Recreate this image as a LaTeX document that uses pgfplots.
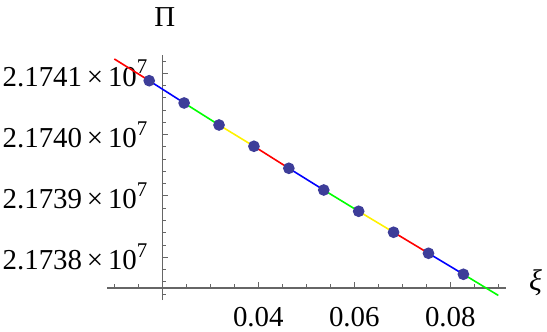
\documentclass[border=0pt]{standalone}
\usepackage{fontspec}
\setmainfont{Liberation Serif}
\usepackage{pgfplots}
\pgfplotsset{compat=1.18}
\definecolor{dotblue}{rgb}{0.24,0.24,0.6}
\definecolor{axgray}{gray}{0.4}
\newcommand{\sci}[1]{#1\,×\,10\raisebox{0.42em}{\fontsize{21}{21}\selectfont 7}}
\begin{document}
\begin{tikzpicture}
\begin{axis}[
  at={(107.1bp,31.8bp)}, anchor=south west,
  scale only axis, width=398.4bp, height=245.3bp,
  xmin=0.0085, xmax=0.0915, ymin=21737300, ymax=21741300,
  axis lines=left,
  axis x line shift=-12.27bp,
  axis y line shift=-55.2bp,
  axis line style={-, draw=axgray, line width=1.2bp},
  tick align=inside,
  major tick length=6bp, minor tick length=3.7bp,
  tick style={draw=axgray, line width=1bp},
  scaled x ticks=false, scaled y ticks=false,
  xtick={0.04,0.06,0.08}, xticklabels={0.04,0.06,0.08},
  minor xtick={0.01,0.015,0.025,0.03,0.035,0.045,0.05,0.055,0.065,0.07,0.075,0.085,0.09},
  ytick={21738000,21739000,21740000,21741000},
  yticklabels={\sci{2.1738},\sci{2.1739},\sci{2.1740},\sci{2.1741}},
  minor ytick={21737400,21737600,21737800,21738200,21738400,21738600,21738800,21739200,21739400,21739600,21739800,21740200,21740400,21740600,21740800,21741200},
  tick label style={font=\fontsize{29}{31}\selectfont, inner sep=2bp},
  xticklabel style={yshift=-17bp},
  yticklabel style={xshift=-12.7bp},
  xlabel={\textit{ξ}}, ylabel={Π},
  every axis x label/.style={at={(axis description cs:1,0)}, anchor=base west, xshift=20bp, yshift=9.8bp, font=\fontsize{30}{32}\selectfont},
  every axis y label/.style={at={(axis description cs:0.145,1)}, anchor=base, yshift=28.3bp, font=\fontsize{29}{32}\selectfont},
  every axis plot/.append style={line width=1.6bp},
]
\addplot[red, no marks] coordinates {(0.01,21741234) (0.017273,21740879)};
\addplot[blue, no marks] coordinates {(0.017273,21740879) (0.024545,21740516)};
\addplot[green, no marks] coordinates {(0.024545,21740516) (0.031818,21740157)};
\addplot[yellow, no marks] coordinates {(0.031818,21740157) (0.039091,21739810)};
\addplot[red, no marks] coordinates {(0.039091,21739810) (0.046364,21739451)};
\addplot[blue, no marks] coordinates {(0.046364,21739451) (0.053636,21739097)};
\addplot[green, no marks] coordinates {(0.053636,21739097) (0.060909,21738750)};
\addplot[yellow, no marks] coordinates {(0.060909,21738750) (0.068182,21738408)};
\addplot[red, no marks] coordinates {(0.068182,21738408) (0.075455,21738065)};
\addplot[blue, no marks] coordinates {(0.075455,21738065) (0.082727,21737723)};
\addplot[green, no marks] coordinates {(0.082727,21737723) (0.09,21737378)};
\addplot[only marks, mark=*, mark size=5bp, draw=dotblue, fill=dotblue] coordinates {
(0.017273,21740879) (0.024545,21740516) (0.031818,21740157) (0.039091,21739810)
(0.046364,21739451) (0.053636,21739097) (0.060909,21738750) (0.068182,21738408)
(0.075455,21738065) (0.082727,21737723)};
\end{axis}
\pgfresetboundingbox
\path[use as bounding box] (0,0) rectangle (547bp,332bp);
\end{tikzpicture}
\end{document}
